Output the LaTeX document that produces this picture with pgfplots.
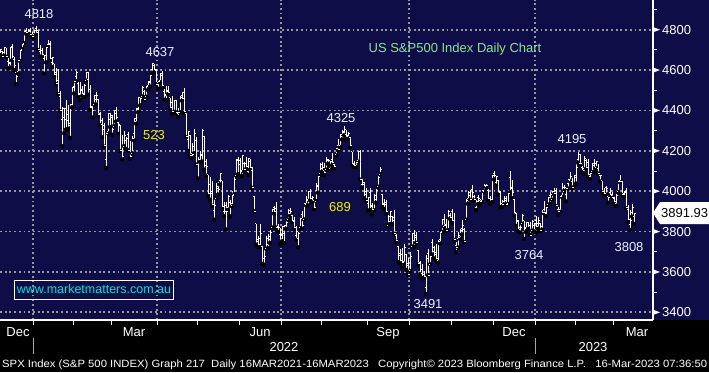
\documentclass[border=0pt]{standalone}
\usepackage{fontspec}
\setmainfont{Liberation Sans}
\usepackage{pgfplots}
\pgfplotsset{compat=1.18}
\usepackage{pgfplotstable}
\usepackage{graphicx}
\definecolor{bgnavy}{RGB}{15,13,72}
\definecolor{gridgray}{RGB}{150,150,155}
\definecolor{annot}{RGB}{232,240,255}
\definecolor{ttlgreen}{RGB}{140,230,140}
\definecolor{cyanw}{RGB}{0,225,225}
\definecolor{yel}{RGB}{240,240,20}
\pgfdeclareplotmark{otick}{\pgfpathmoveto{\pgfqpoint{-1.5pt}{0pt}}\pgfpathlineto{\pgfqpoint{0pt}{0pt}}\pgfusepathqstroke}
\pgfdeclareplotmark{ctick}{\pgfpathmoveto{\pgfqpoint{0pt}{0pt}}\pgfpathlineto{\pgfqpoint{1.5pt}{0pt}}\pgfusepathqstroke}
\newcommand{\fs}[1]{\fontsize{#1}{#1}\selectfont}
\pgfplotstableread{
i o h l c
0 4690 4705 4674 4701
1 4691 4695 4665 4667
2 4687 4713 4671 4712
3 4710 4710 4666 4669
4 4642 4660 4606 4635
5 4637 4712 4612 4710
6 4719 4731 4648 4669
7 4652 4666 4600 4621
8 4587 4592 4531 4568
9 4594 4651 4583 4649
10 4650 4698 4645 4697
11 4703 4740 4703 4726
12 4733 4791 4733 4791
13 4795 4808 4780 4786
14 4788 4804 4778 4793
15 4795 4808 4775 4778
16 4776 4787 4766 4766
17 4778 4797 4758 4797
18 4804 4818 4774 4794
19 4788 4798 4699 4701
20 4693 4726 4667 4696
21 4698 4708 4663 4677
22 4656 4673 4582 4670
23 4670 4714 4638 4713
24 4728 4749 4718 4726
25 4733 4745 4650 4659
26 4637 4666 4614 4663
27 4632 4632 4569 4577
28 4588 4611 4530 4533
29 4547 4603 4480 4483
30 4471 4494 4395 4398
31 4357 4417 4223 4410
32 4366 4412 4287 4357
33 4408 4454 4305 4350
34 4381 4429 4309 4327
35 4337 4432 4264 4432
36 4431 4516 4415 4516
37 4519 4551 4484 4546
38 4566 4595 4544 4589
39 4535 4542 4471 4477
40 4482 4540 4452 4501
41 4505 4521 4471 4484
42 4480 4531 4466 4522
43 4548 4590 4548 4587
44 4554 4588 4478 4504
45 4506 4527 4402 4419
46 4413 4427 4365 4401
47 4430 4472 4429 4472
48 4455 4489 4429 4475
49 4456 4456 4374 4380
50 4384 4394 4327 4349
51 4333 4363 4267 4305
52 4324 4340 4221 4226
53 4155 4295 4115 4288
54 4298 4385 4287 4385
55 4354 4389 4318 4374
56 4364 4375 4280 4306
57 4322 4401 4322 4387
58 4401 4416 4345 4363
59 4342 4343 4284 4329
60 4327 4327 4199 4201
61 4203 4276 4157 4171
62 4224 4299 4224 4278
63 4253 4268 4209 4260
64 4279 4292 4202 4204
65 4202 4247 4162 4173
66 4188 4272 4187 4262
67 4288 4358 4251 4358
68 4345 4412 4335 4412
69 4407 4465 4391 4463
70 4462 4471 4425 4461
71 4469 4522 4469 4512
72 4493 4501 4455 4456
73 4470 4520 4468 4520
74 4523 4546 4501 4543
75 4541 4575 4518 4575
76 4603 4637 4581 4632
77 4624 4628 4589 4602
78 4600 4604 4531 4530
79 4540 4548 4507 4546
80 4547 4583 4539 4583
81 4572 4593 4514 4525
82 4495 4504 4453 4481
83 4475 4521 4450 4500
84 4494 4520 4481 4488
85 4462 4464 4408 4413
86 4438 4472 4381 4397
87 4396 4453 4393 4447
88 4449 4453 4390 4392
89 4385 4411 4367 4391
90 4391 4471 4391 4463
91 4473 4489 4448 4459
92 4489 4513 4385 4394
93 4385 4385 4267 4272
94 4255 4300 4200 4297
95 4278 4278 4175 4175
96 4187 4240 4163 4184
97 4222 4308 4188 4288
98 4253 4270 4132 4132
99 4131 4170 4063 4155
100 4159 4200 4145 4175
101 4180 4307 4147 4301
102 4271 4271 4107 4147
103 4128 4158 4077 4123
104 4081 4082 3976 3991
105 4035 4069 3958 4001
106 3991 4050 3928 3935
107 3904 3964 3859 3930
108 3964 4039 3965 4024
109 4013 4046 3983 4008
110 4052 4090 4033 4088
111 4052 4052 3913 3923
112 3900 3946 3876 3901
113 3927 3944 3810 3901
114 3920 3981 3909 3974
115 3943 3955 3875 3941
116 3929 3999 3925 3979
117 3985 4076 3985 4058
118 4077 4158 4077 4158
119 4151 4169 4084 4132
120 4150 4166 4074 4101
121 4096 4177 4074 4177
122 4137 4143 4097 4109
123 4135 4169 4109 4121
124 4097 4164 4081 4161
125 4148 4160 4107 4116
126 4102 4120 4017 4018
127 3974 3975 3900 3901
128 3838 3838 3735 3750
129 3763 3778 3725 3735
130 3764 3838 3723 3790
131 3728 3728 3640 3667
132 3665 3708 3636 3675
133 3715 3779 3715 3765
134 3734 3790 3717 3760
135 3775 3808 3743 3796
136 3820 3913 3820 3912
137 3920 3927 3889 3901
138 3913 3945 3820 3821
139 3825 3837 3799 3819
140 3785 3818 3738 3785
141 3782 3829 3752 3825
142 3793 3832 3742 3831
143 3831 3865 3813 3845
144 3858 3910 3858 3903
145 3889 3919 3878 3899
146 3880 3880 3847 3855
147 3851 3874 3814 3819
148 3779 3829 3759 3802
149 3764 3796 3722 3790
150 3818 3863 3817 3863
151 3883 3903 3814 3831
152 3860 3939 3860 3937
153 3935 3975 3930 3960
154 3956 3999 3929 3999
155 3999 4013 3955 3962
156 3965 3975 3944 3967
157 3954 3954 3911 3921
158 3951 4040 3951 4024
159 4027 4078 3992 4073
160 4088 4140 4079 4130
161 4113 4144 4096 4119
162 4105 4140 4080 4091
163 4107 4167 4107 4155
164 4154 4161 4135 4152
165 4115 4151 4107 4145
166 4155 4187 4128 4140
167 4133 4137 4112 4122
168 4182 4211 4177 4210
169 4227 4257 4202 4208
170 4225 4280 4219 4280
171 4269 4301 4256 4297
172 4290 4325 4277 4305
173 4281 4302 4253 4275
174 4273 4293 4262 4284
175 4267 4267 4219 4228
176 4195 4195 4130 4138
177 4134 4149 4119 4128
178 4127 4156 4119 4141
179 4154 4201 4146 4199
180 4198 4204 4057 4058
181 4034 4062 4018 4031
182 4041 4044 3965 3986
183 4000 4015 3954 3955
184 3937 3970 3903 3967
185 3994 4018 3907 3924
186 3931 3942 3886 3909
187 3910 3987 3906 3980
188 3959 4010 3942 4006
189 4022 4076 4022 4067
190 4084 4120 4084 4110
191 3983 3985 3922 3933
192 3940 3961 3912 3946
193 3933 3956 3889 3901
194 3830 3880 3828 3873
195 3849 3900 3838 3900
196 3876 3877 3837 3856
197 3871 3907 3789 3790
198 3782 3790 3750 3758
199 3727 3727 3648 3693
200 3682 3715 3644 3655
201 3686 3717 3623 3647
202 3651 3736 3641 3720
203 3688 3688 3610 3640
204 3633 3671 3584 3586
205 3609 3698 3604 3678
206 3726 3791 3726 3791
207 3754 3807 3723 3783
208 3771 3797 3744 3745
209 3707 3710 3636 3640
210 3645 3652 3588 3612
211 3595 3640 3569 3589
212 3590 3607 3571 3577
213 3521 3685 3491 3669
214 3690 3712 3584 3583
215 3638 3689 3638 3677
216 3746 3762 3686 3720
217 3703 3728 3667 3695
218 3689 3736 3657 3666
219 3658 3757 3647 3752
220 3763 3805 3741 3798
221 3799 3862 3799 3859
222 3825 3886 3825 3831
223 3834 3860 3803 3807
224 3808 3905 3808 3901
225 3881 3893 3863 3872
226 3901 3911 3843 3856
227 3853 3894 3759 3760
228 3733 3750 3698 3720
229 3767 3796 3721 3771
230 3781 3814 3764 3807
231 3817 3859 3786 3828
232 3810 3818 3748 3749
233 3859 3959 3859 3956
234 3964 4002 3937 3993
235 3978 4008 3957 3957
236 4007 4029 3953 3992
237 3976 3983 3954 3959
238 3920 3954 3907 3947
239 3967 3979 3936 3965
240 3956 3962 3933 3950
241 3956 4004 3947 4003
242 4000 4034 3999 4027
243 4023 4034 4021 4026
244 4005 4012 3956 3964
245 3964 3976 3937 3958
246 3957 4080 3946 4080
247 4087 4101 4058 4077
248 4041 4077 4027 4072
249 4053 4053 3984 3999
250 3996 4001 3919 3941
251 3937 3957 3923 3933
252 3947 3974 3935 3964
253 3954 3977 3933 3934
254 3940 3991 3937 3991
255 4069 4101 3994 4019
256 4015 4053 3966 3996
257 3958 3959 3880 3896
258 3890 3890 3828 3852
259 3854 3855 3803 3818
260 3811 3838 3795 3821
261 3840 3888 3839 3879
262 3853 3853 3764 3822
263 3815 3846 3798 3845
264 3843 3846 3813 3829
265 3829 3849 3783 3783
266 3805 3858 3805 3849
267 3830 3840 3801 3840
268 3853 3878 3795 3825
269 3840 3873 3815 3853
270 3840 3840 3802 3808
271 3823 3906 3809 3895
272 3910 3951 3890 3893
273 3889 3919 3877 3919
274 3932 3970 3925 3970
275 3977 3997 3937 3983
276 3961 4003 3958 3999
277 3999 4015 3984 3991
278 4002 4015 3926 3929
279 3911 3922 3885 3899
280 3909 3973 3898 3973
281 3978 4039 3971 4020
282 4001 4032 4001 4017
283 3982 4019 3949 4016
284 4037 4060 4013 4060
285 4053 4095 4049 4071
286 4049 4063 4015 4018
287 4021 4077 4021 4077
288 4070 4148 4038 4119
289 4158 4195 4141 4180
290 4137 4183 4124 4136
291 4119 4124 4094 4111
292 4105 4176 4088 4164
293 4153 4157 4111 4118
294 4144 4157 4069 4082
295 4074 4095 4060 4090
296 4096 4138 4092 4137
297 4127 4159 4095 4136
298 4119 4148 4113 4148
299 4114 4137 4087 4090
300 4077 4081 4048 4079
301 4052 4052 3995 3997
302 4001 4017 3981 3991
303 4018 4028 3983 4012
304 3973 3979 3943 3970
305 3993 4018 3973 3982
306 3977 3997 3968 3970
307 3963 3971 3940 3951
308 3938 3990 3928 3981
309 3998 4048 3995 4046
310 4055 4079 4044 4048
311 4048 4051 3980 3986
312 3987 4000 3970 3992
313 3998 4018 3916 3918
314 3912 3934 3847 3862
315 3835 3906 3808 3855
316 3895 3937 3874 3920
317 3876 3894 3838 3892
}\ohlc
\begin{document}
\begin{tikzpicture}
\useasboundingbox (0pt,0pt) rectangle (709pt,372pt);
\fill[black] (0pt,0pt) rectangle (709pt,372pt);
\fill[bgnavy] (0pt,52pt) rectangle (709pt,372pt);
\begin{axis}[
  at={(0pt,52pt)}, anchor=south west,
  width=653pt, height=320pt, scale only axis,
  xmin=0, xmax=326.5, ymin=3362, ymax=4947,
  clip=false,
  axis line style={draw=none},
  tick style={draw=none},
  xtick={16.5,78.5,140.5,204.5,267.5},
  xticklabels={},
  extra x ticks={9,67,130,194,257,318.5},
  extra x tick labels={Dec,Mar,Jun,Sep,Dec,Mar},
  extra x tick style={grid=none},
  xticklabel style={text=white, font=\fs{13}, anchor=north, inner sep=0pt, yshift=-7pt},
  ytick={3400,3600,...,4800},
  yticklabel pos=right,
  yticklabel style={text=white, font=\fs{13}, anchor=west, inner sep=0pt, xshift=9pt},
  /pgf/number format/.cd, 1000 sep={}, assume math mode=true,
  /pgfplots/.cd,
  grid=major,
  major grid style={gridgray, line width=1.8pt, dash pattern=on 1.9pt off 2.8pt},
]
% high-low bars
\addplot[only marks, mark=none, error bars/.cd, y dir=plus, y explicit, error mark=none,
  error bar style={white, line width=0.9pt}]
  table[x=i, y=l, y error expr=\thisrow{h}-\thisrow{l}] {\ohlc};
% open ticks
\addplot[white, line width=0.9pt, only marks, mark=otick] table[x=i, y=o] {\ohlc};
% close ticks
\addplot[white, line width=0.9pt, only marks, mark=ctick] table[x=i, y=c] {\ohlc};

% axis lines
\draw[white, line width=1.3pt] (axis cs:326.5,3362) -- (axis cs:326.5,4947);
\draw[white, line width=1.3pt] (axis cs:0,3362) -- (axis cs:326.5,3362);
% right-axis markers
\pgfplotsinvokeforeach{3400,3600,3800,4000,4200,4400,4600,4800}{
  \fill[white] ([yshift=2.6pt]axis cs:326.5,#1) -- ([xshift=7pt]axis cs:326.5,#1) -- ([yshift=-2.6pt]axis cs:326.5,#1) -- cycle;
}
\pgfplotsinvokeforeach{3500,3700,4100,4300,4500,4700,4900}{
  \draw[white, line width=1pt] (axis cs:326.5,#1) -- ++(4pt,0pt);
}
% month ticks
\pgfplotsinvokeforeach{16.5,36.5,55.5,78.5,98.5,119.5,140.5,160.5,183.5,204.5,225.5,246.5,267.5,287.5,306.5}{
  \draw[white, line width=1pt] (axis cs:#1,3362) -- ++(0pt,-4.5pt);
}
% annotations
\node[text=annot, font=\fs{13}, anchor=base, inner sep=0pt] at (axis cs:19.5,4853) {4818};
\node[text=annot, font=\fs{13}, anchor=base, inner sep=0pt] at (axis cs:80,4665) {4637};
\node[text=yel, font=\fs{13}, anchor=base, inner sep=0pt] at (axis cs:77,4258) {523};
\node[text=annot, font=\fs{13}, anchor=base, inner sep=0pt] at (axis cs:170.5,4338) {4325};
\node[text=yel, font=\fs{13}, anchor=base, inner sep=0pt] at (axis cs:170,3897) {689};
\node[text=annot, font=\fs{13}, anchor=base, inner sep=0pt] at (axis cs:214,3421) {3491};
\node[text=annot, font=\fs{13}, anchor=base, inner sep=0pt] at (axis cs:264.5,3664) {3764};
\node[text=annot, font=\fs{13}, anchor=base, inner sep=0pt] at (axis cs:286,4234) {4195};
\node[text=annot, font=\fs{13}, anchor=base, inner sep=0pt] at (axis cs:314.5,3699) {3808};
\node[text=ttlgreen, font=\fs{13}, anchor=base, inner sep=0pt] at (axis cs:227.5,4685) {US S\&P500 Index Daily Chart};
\node[draw=white, line width=1pt, text=cyanw, font=\fs{12.5}, inner xsep=2pt, inner ysep=0pt, minimum height=19pt] at (axis cs:47,3513) {www.marketmatters.com.au};
% last price tag
\fill[white] (axis cs:326.5,3891.93) -- ++(7pt,11pt) -- ++(49pt,0pt) -- ++(0pt,-22pt) -- ++(-49pt,0pt) -- cycle;
\node[text=black, font=\fs{13}, anchor=west, inner sep=0pt] at ([xshift=8pt]axis cs:326.5,3891.93) {3891.93};
\end{axis}
% year separators and labels
\draw[gray!70, line width=1pt] (33pt,34pt) -- (33pt,18pt);
\draw[gray!70, line width=1pt] (535pt,34pt) -- (535pt,18pt);
\node[text=white, font=\fs{13}, inner sep=0pt] at (284pt,25pt) {2022};
\node[text=white, font=\fs{13}, inner sep=0pt] at (593pt,25pt) {2023};
\node[anchor=base west, inner sep=0pt, text=white] at (2pt,4.7pt) {\resizebox{705pt}{\height}{\fs{10.5}SPX Index (S\&P 500 INDEX) Graph 217\ \ Daily 16MAR2021-16MAR2023\ \ \ Copyright© 2023 Bloomberg Finance L.P.\ \ \ 16-Mar-2023 07:36:50}};
\end{tikzpicture}
\end{document}
